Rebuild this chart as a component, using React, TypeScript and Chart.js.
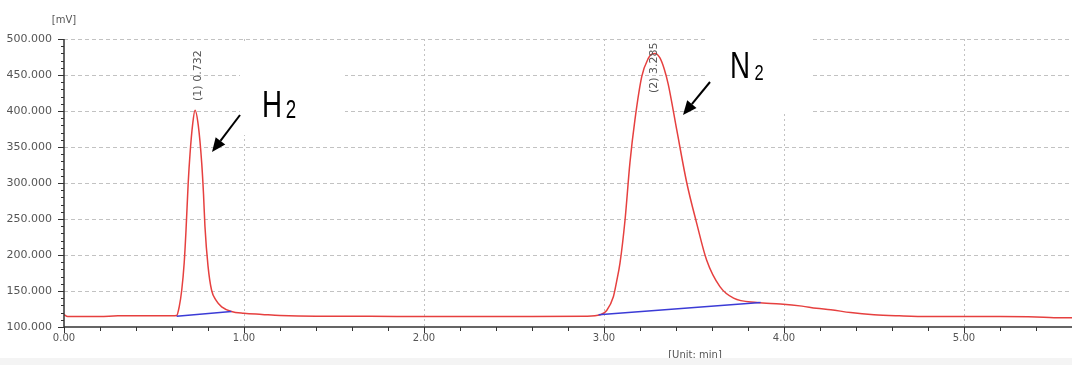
import React, { useEffect, useRef } from "react";
import { Chart, registerables } from "chart.js";

Chart.register(...registerables);

// ---- data ----
const signalTimes = [
  0, 0.02, 0.1, 0.2, 0.3, 0.4, 0.5, 0.6, 0.626, 0.64, 0.654, 0.668, 0.678, 0.69, 0.7, 0.715, 0.728,
  0.746, 0.765, 0.775, 0.783, 0.8, 0.82, 0.845, 0.876, 0.93, 1.0, 1.1, 1.2, 1.4, 1.7, 2.0, 2.3, 2.6,
  2.9, 2.98, 3.015, 3.052, 3.07, 3.089, 3.117, 3.144, 3.172, 3.21, 3.246, 3.265, 3.285, 3.31, 3.335,
  3.357, 3.404, 3.46, 3.515, 3.57, 3.644, 3.72, 3.85, 3.98, 4.1, 4.18, 4.26, 4.37, 4.5, 4.64, 4.8,
  5.0, 5.2, 5.4, 5.5, 5.6,
];
const signalValues = [
  117, 114.5, 114.5, 114.5, 115.5, 115.5, 115.5, 115.5, 116, 128, 151, 190, 235, 300, 340, 382, 401,
  380, 328, 285, 240, 185, 151, 137, 128, 121.5, 119, 117.5, 116, 115, 115, 114.5, 114.5, 114.5,
  115, 117, 123, 142, 163, 189, 249, 328, 388, 448, 473, 479, 480, 474, 458,
  437, 374, 300, 244, 193, 156, 140, 134, 132, 129, 126, 124, 120, 117, 115.5, 114.5,
  114.5, 114.5, 114, 113, 113,
];
const h2BaseTimes = [0.626, 0.93];
const h2BaseValues = [115, 121.5];
const n2BaseTimes = [2.97, 3.87];
const n2BaseValues = [117, 134];

const peakTimes = [0.732, 3.285];
const peakLabels = ["(1) 0.732", "(2) 3.285"];
const peakLabelValues = [414, 425];

const xTickValues = [0, 1, 2, 3, 4, 5];
const yTickValues = [100, 150, 200, 250, 300, 350, 400, 450, 500];

const toPoints = (xs: number[], ys: number[]) => xs.map((x, i) => ({ x, y: ys[i] }));

const decorPlugin = {
  id: "decor",
  beforeDatasetsDraw(chart: any) {
    const { ctx, chartArea: ca, scales } = chart;
    const x = scales.x;
    const y = scales.y;
    ctx.save();
    ctx.strokeStyle = "#c2c2c2";
    ctx.lineWidth = 1;
    ctx.setLineDash([4, 3]);
    for (const v of yTickValues) {
      if (v === yTickValues[0]) continue;
      const py = Math.round(y.getPixelForValue(v)) + 0.5;
      ctx.beginPath();
      ctx.moveTo(ca.left, py);
      ctx.lineTo(ca.right, py);
      ctx.stroke();
    }
    ctx.setLineDash([2, 3]);
    for (const v of xTickValues) {
      if (v === 0) continue;
      const px = Math.round(x.getPixelForValue(v)) + 0.5;
      ctx.beginPath();
      ctx.moveTo(px, ca.top);
      ctx.lineTo(px, ca.bottom);
      ctx.stroke();
    }
    ctx.setLineDash([]);
    // white label boxes of the original annotation layer
    ctx.fillStyle = "#ffffff";
    ctx.fillRect(240, 43, 105, 92);
    ctx.fillRect(708, 28, 102, 85);
    ctx.restore();
  },
  afterDatasetsDraw(chart: any) {
    const { ctx, chartArea: ca, scales } = chart;
    const x = scales.x;
    const y = scales.y;
    ctx.save();
    // axes
    ctx.strokeStyle = "#333333";
    ctx.lineWidth = 1.5;
    ctx.beginPath();
    ctx.moveTo(ca.left, ca.top);
    ctx.lineTo(ca.left, ca.bottom);
    ctx.lineTo(ca.right, ca.bottom);
    ctx.stroke();
    // x ticks: major every 1, minor every 0.2
    ctx.lineWidth = 1;
    for (let i = 0; i <= 28; i++) {
      const v = i * 0.2;
      const px = Math.round(x.getPixelForValue(v)) + 0.5;
      const len = i % 5 === 0 ? 6 : 4;
      ctx.beginPath();
      ctx.moveTo(px, ca.bottom);
      ctx.lineTo(px, ca.bottom + len);
      ctx.stroke();
    }
    // y ticks: major every 50, minor every 10
    for (let v = 100; v <= 500; v += 10) {
      const py = Math.round(y.getPixelForValue(v)) + 0.5;
      const len = v % 50 === 0 ? 6 : 3;
      ctx.beginPath();
      ctx.moveTo(ca.left - len, py);
      ctx.lineTo(ca.left, py);
      ctx.stroke();
    }
    // axis unit labels
    ctx.fillStyle = "#555555";
    ctx.font = "10px 'DejaVu Sans'";
    ctx.textAlign = "center";
    ctx.textBaseline = "middle";
    ctx.fillText("[mV]", ca.left, 20);
    ctx.fillText("[Unit: min]", 695, 355);

    // peak labels (rotated)
    ctx.font = "11px 'DejaVu Sans'";
    ctx.textAlign = "left";
    for (let i = 0; i < peakTimes.length; i++) {
      const px = x.getPixelForValue(peakTimes[i]) + (i === 0 ? 2 : -1);
      const py = y.getPixelForValue(peakLabelValues[i]);
      ctx.save();
      ctx.translate(px, py);
      ctx.rotate(-Math.PI / 2);
      ctx.fillText(peakLabels[i], 0, 0);
      ctx.restore();
    }

    // H2 / N2 annotations
    const drawGas = (letter: string, lx: number, base: number, big: number, sub: number, subBase: number, gap: number) => {
      ctx.save();
      ctx.fillStyle = "#000000";
      ctx.textAlign = "left";
      ctx.textBaseline = "alphabetic";
      ctx.translate(lx, 0);
      ctx.scale(0.75, 1);
      ctx.font = `${big}px 'Liberation Sans'`;
      ctx.fillText(letter, 0, base);
      const w = ctx.measureText(letter).width;
      ctx.font = `${sub}px 'Liberation Sans'`;
      ctx.fillText("2", w + gap, subBase);
      ctx.restore();
    };
    drawGas("H", 262, 117, 37, 25, 118, 5);
    drawGas("N", 730, 78, 37, 22, 80, 6);

    const arrow = (x1: number, y1: number, x2: number, y2: number) => {
      const ang = Math.atan2(y2 - y1, x2 - x1);
      const hl = 14;
      const hw = 6;
      const bx = x2 - hl * Math.cos(ang);
      const by = y2 - hl * Math.sin(ang);
      ctx.strokeStyle = "#000000";
      ctx.fillStyle = "#000000";
      ctx.lineWidth = 2;
      ctx.beginPath();
      ctx.moveTo(x1, y1);
      ctx.lineTo(bx, by);
      ctx.stroke();
      ctx.beginPath();
      ctx.moveTo(x2, y2);
      ctx.lineTo(bx + hw * Math.sin(ang), by - hw * Math.cos(ang));
      ctx.lineTo(bx - hw * Math.sin(ang), by + hw * Math.cos(ang));
      ctx.closePath();
      ctx.fill();
    };
    arrow(240, 115, 212, 152);
    arrow(710, 82, 683, 115);

    // faint band at the bottom of the original screenshot
    ctx.fillStyle = "#f4f4f4";
    ctx.fillRect(0, 358, chart.width, 7);
    ctx.restore();
  },
};

export default function App() {
  const canvasRef = useRef<HTMLCanvasElement | null>(null);

  useEffect(() => {
    if (!canvasRef.current) return;
    const chart = new Chart(canvasRef.current, {
      type: "line",
      data: {
        datasets: [
          {
            data: toPoints(h2BaseTimes, h2BaseValues),
            borderColor: "#3b3bd6",
            borderWidth: 1.5,
            pointRadius: 0,
            order: 0,
          },
          {
            data: toPoints(n2BaseTimes, n2BaseValues),
            borderColor: "#3b3bd6",
            borderWidth: 1.5,
            pointRadius: 0,
            order: 0,
          },
          {
            data: toPoints(signalTimes, signalValues),
            borderColor: "#e6403f",
            borderWidth: 1.5,
            pointRadius: 0,
            cubicInterpolationMode: "monotone",
            order: 1,
          },
        ],
      },
      options: {
        animation: false,
        responsive: false,
        maintainAspectRatio: false,
        layout: { padding: { top: 39, right: 0, left: 0, bottom: 0 } },
        plugins: { legend: { display: false }, tooltip: { enabled: false } },
        scales: {
          x: {
            type: "linear",
            min: 0,
            max: 5.6,
            afterFit: (s: any) => {
              s.height = 38;
            },
            grid: { color: "rgba(0,0,0,0)", drawTicks: false },
            border: { display: false },
            ticks: {
              stepSize: 1,
              includeBounds: false,
              autoSkip: false,
              maxRotation: 0,
              padding: 5,
              color: "#555555",
              font: { family: "'DejaVu Sans'", size: 10 },
              callback: (v: any) => Number(v).toFixed(2),
            },
          },
          y: {
            type: "linear",
            min: 100,
            max: 500,
            afterFit: (s: any) => {
              s.width = 64;
            },
            grid: { color: "rgba(0,0,0,0)", drawTicks: false },
            border: { display: false },
            ticks: {
              stepSize: 50,
              autoSkip: false,
              padding: 12,
              color: "#555555",
              font: { family: "'DejaVu Sans'", size: 11 },
              callback: (v: any) => Number(v).toFixed(3),
            },
          },
        },
      },
      plugins: [decorPlugin],
    });
    return () => chart.destroy();
  }, []);

  return (
    <div style={{ position: "fixed", left: 0, top: 0, width: 1072, height: 365, background: "#ffffff" }}>
      <canvas ref={canvasRef} width={1072} height={365} style={{ display: "block" }} />
    </div>
  );
}
